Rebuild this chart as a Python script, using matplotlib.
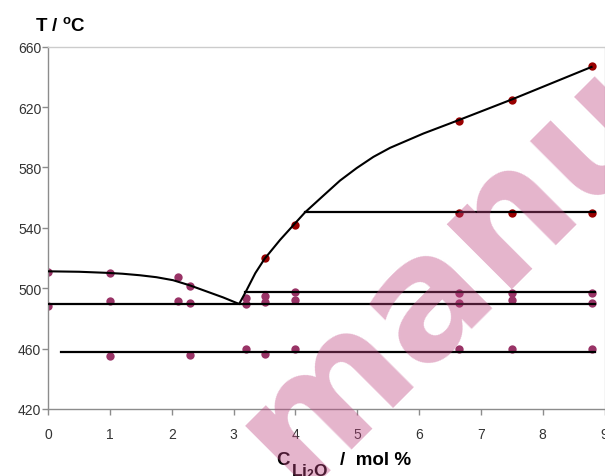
import matplotlib
matplotlib.use("Agg")
import matplotlib.pyplot as plt

plt.rcParams["font.family"] = ["Liberation Sans", "DejaVu Sans"]
plt.rcParams["mathtext.fontset"] = "custom"
plt.rcParams["mathtext.rm"] = "Liberation Sans"
plt.rcParams["mathtext.bf"] = "Liberation Sans:bold"
plt.rcParams["mathtext.it"] = "Liberation Sans:italic"

# measured points (plum markers)
pts_x = [0, 0, 1, 1, 1, 2.1, 2.1, 2.3, 2.3, 2.3,
         3.2, 3.2, 3.2, 3.5, 3.5, 3.5, 4, 4, 4,
         6.65, 6.65, 6.65, 7.5, 7.5, 7.5, 8.8, 8.8, 8.8]
pts_y = [511, 488, 510, 491.5, 455, 507.5, 491.5, 501.5, 490.5, 455.5,
         493.5, 489.5, 459.5, 495, 491, 456.5, 497.5, 492, 459.5,
         497, 490, 459.5, 497, 492, 459.5, 497, 490, 459.5]

# liquidus / 550 level points (dark red markers)
liq_x = [3.5, 4.0, 6.65, 7.5, 8.8, 6.65, 7.5, 8.8]
liq_y = [520, 542, 611, 625, 647, 550, 550, 550]

# drawn curves
left_curve_x = [0, 0.5, 0.94, 1.2, 1.48, 1.75, 2.02, 2.29, 2.56, 2.83, 3.08]
left_curve_y = [511.2, 510.9, 510.2, 509.6, 508.6, 507.3, 505.3, 501.9, 497.9, 493.9, 489.7]
right_curve_x = [3.09, 3.2, 3.35, 3.5, 3.75, 4.0, 4.155, 4.45, 4.72, 4.99,
                 5.26, 5.53, 6.07, 6.63, 7.51, 8.79]
right_curve_y = [489.7, 498, 510, 519.5, 532, 543.3, 550.3, 561.3, 571.3, 579.6,
                 587, 593, 602.5, 611.2, 625.2, 646.6]

# horizontal lines: (x start, x end, T)
h_start = [4.155, 3.18, 0.0, 0.2]
h_end = [8.85, 8.85, 8.85, 8.85]
h_level = [550.3, 497.3, 489.7, 457.5]

fig = plt.figure(figsize=(6.05, 4.77), dpi=100)
ax = fig.add_axes([0.0798, 0.1405, 0.9194, 0.7595])

ax.plot(left_curve_x, left_curve_y, color="black", lw=1.5, zorder=3)
ax.plot(right_curve_x, right_curve_y, color="black", lw=1.5, zorder=3)
for xs, xe, t in zip(h_start, h_end, h_level):
    ax.plot([xs, xe], [t, t], color="black", lw=1.6, zorder=3)

ax.plot(pts_x, pts_y, "o", color="#993366", ms=6, mec="none", zorder=2)
ax.plot(liq_x, liq_y, "o", color="#990000", ms=6, mec="none", zorder=2)

ax.set_xlim(0, 9)
ax.set_ylim(420, 660)
ax.set_xticks(range(0, 10))
ax.set_yticks(range(420, 661, 40))

for s in ["left", "bottom"]:
    ax.spines[s].set_color("#8c8c8c")
    ax.spines[s].set_linewidth(1.0)
for s in ["top", "right"]:
    ax.spines[s].set_color("#cccccc")
    ax.spines[s].set_linewidth(1.0)

ax.tick_params(axis="both", colors="#8c8c8c", labelcolor="#333333",
               labelsize=10, length=4, width=1.0)
ax.tick_params(axis="y", pad=1)
ax.tick_params(axis="x", pad=9)

fig.text(35 / 605, 1 - 31 / 477, r"$\mathbf{T\ /\ {}^{o}C}$",
         fontsize=13.5, ha="left", va="baseline")

fig.text(276 / 605, 1 - 465 / 477, "C", fontsize=13.5, fontweight="bold",
         ha="left", va="baseline")
fig.text(291 / 605, 1 - 476 / 477, r"$\mathbf{Li_2O}$", fontsize=12.5,
         ha="left", va="baseline")
fig.text(340 / 605, 1 - 465 / 477, "/  mol %", fontsize=13.5, fontweight="bold",
         ha="left", va="baseline")

# watermark
fig.text(0.49, -0.03, "manuscript", fontsize=120, fontweight="bold",
         family="DejaVu Sans", color="#BE4480", alpha=0.4, rotation=45,
         rotation_mode="anchor", ha="left", va="baseline", zorder=10)

fig.savefig("out.png", dpi=100)
